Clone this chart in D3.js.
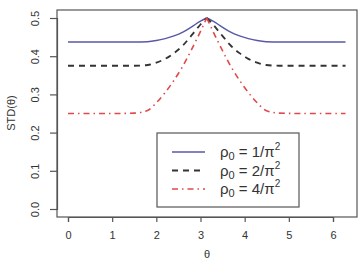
<!DOCTYPE html>
<html>
<head>
<meta charset="utf-8">
<script src="https://cdn.jsdelivr.net/npm/d3@7"></script>
<style>
  body { margin: 0; background: #fff; }
  svg { display: block; font-family: "Liberation Sans", Arial, sans-serif; }
</style>
</head>
<body>
<script>
// theta samples (0 .. 2*pi), curve is symmetric around pi
const theta = [0, 0.5, 1.0, 1.5, 1.8, 2.0, 2.2, 2.4, 2.6, 2.8, 3.0, 3.1416,
               3.2832, 3.4832, 3.6832, 3.8832, 4.0832, 4.2832, 4.4832, 4.7832, 5.2832, 5.7832, 6.2832];
const stdRho1 = [0.437, 0.437, 0.437, 0.437, 0.438, 0.441, 0.446, 0.453, 0.463, 0.477, 0.492, 0.5,
                 0.492, 0.477, 0.463, 0.453, 0.446, 0.441, 0.438, 0.437, 0.437, 0.437, 0.437];
const stdRho2 = [0.375, 0.375, 0.375, 0.375, 0.377, 0.383, 0.393, 0.408, 0.428, 0.455, 0.483, 0.5,
                 0.483, 0.455, 0.428, 0.408, 0.393, 0.383, 0.377, 0.375, 0.375, 0.375, 0.375];
const stdRho4 = [0.25, 0.25, 0.25, 0.251, 0.258, 0.278, 0.305, 0.337, 0.374, 0.418, 0.465, 0.5,
                 0.465, 0.418, 0.374, 0.337, 0.305, 0.278, 0.258, 0.251, 0.25, 0.25, 0.25];
const seriesLabels = ["1", "2", "4"];
const xTicks = [0, 1, 2, 3, 4, 5, 6];
const yTicks = [0.0, 0.1, 0.2, 0.3, 0.4, 0.5];

const width = 360, height = 260;
const box = { left: 57, right: 357, top: 10, bottom: 217 };

const svg = d3.select("body").append("svg")
    .attr("width", width)
    .attr("height", height);

const x = d3.scaleLinear().domain([0, 6]).range([68, 333]);
const y = d3.scaleLinear().domain([0, 0.5]).range([209, 18]);

// plot box
svg.append("rect")
    .attr("x", box.left).attr("y", box.top)
    .attr("width", box.right - box.left).attr("height", box.bottom - box.top)
    .attr("fill", "none").attr("stroke", "#555").attr("stroke-width", 1.2);

// x axis
const xAxis = svg.append("g")
    .attr("transform", `translate(0,${box.bottom})`)
    .call(d3.axisBottom(x).tickValues(xTicks).tickSize(5).tickPadding(9).tickFormat(d3.format("d")));
xAxis.select(".domain").attr("stroke", "#555").attr("stroke-width", 1.2);
xAxis.selectAll(".tick line").attr("stroke", "#555").attr("stroke-width", 1.2);
xAxis.selectAll("text").attr("font-size", 11).attr("fill", "#333")
    .attr("font-family", "Liberation Sans, Arial, sans-serif");

// y axis
const yAxis = svg.append("g")
    .attr("transform", `translate(${box.left},0)`)
    .call(d3.axisLeft(y).tickValues(yTicks).tickSize(7).tickFormat(d3.format(".1f")));
yAxis.select(".domain").attr("stroke", "#555").attr("stroke-width", 1.2);
yAxis.selectAll(".tick line").attr("stroke", "#555").attr("stroke-width", 1.2);
yAxis.selectAll("text")
    .attr("font-size", 11).attr("fill", "#333")
    .attr("font-family", "Liberation Sans, Arial, sans-serif")
    .attr("x", null)
    .attr("text-anchor", "middle")
    .attr("transform", "translate(-22,0) rotate(-90)")
    .attr("dy", "0.35em");

// axis titles
svg.append("text")
    .attr("transform", `translate(15,113) rotate(-90)`)
    .attr("text-anchor", "middle")
    .attr("font-size", 11).attr("fill", "#333")
    .text("STD(θ)");
svg.append("text")
    .attr("x", 207).attr("y", 258)
    .attr("text-anchor", "middle")
    .attr("font-size", 11).attr("fill", "#333")
    .text("θ");

// curves: draw left and right half separately so the cusp at pi stays sharp
const styles = [
    { values: stdRho1, color: "#5858a8", dash: null, width: 1.4 },
    { values: stdRho2, color: "#333333", dash: "6,5", width: 1.8 },
    { values: stdRho4, color: "#e04a4a", dash: "6,4,1.5,4", width: 1.6 }
];
const peak = theta.indexOf(3.1416);
const line = d3.line()
    .x(d => x(d[0]))
    .y(d => y(d[1]))
    .curve(d3.curveMonotoneX);

styles.forEach(s => {
    const pts = theta.map((t, i) => [t, s.values[i]]);
    [pts.slice(0, peak + 1), pts.slice(peak)].forEach(part => {
        svg.append("path")
            .attr("d", line(part))
            .attr("fill", "none")
            .attr("stroke", s.color)
            .attr("stroke-width", s.width)
            .attr("stroke-dasharray", s.dash);
    });
});

// legend
const legend = svg.append("g");
legend.append("rect")
    .attr("x", 157).attr("y", 133).attr("width", 142).attr("height", 74)
    .attr("fill", "#fff").attr("stroke", "#555").attr("stroke-width", 1.2);

styles.forEach((s, i) => {
    const ly = 152 + i * 18.5;
    legend.append("line")
        .attr("x1", 172).attr("x2", 205).attr("y1", ly).attr("y2", ly)
        .attr("stroke", s.color).attr("stroke-width", s.width)
        .attr("stroke-dasharray", s.dash);
    const t = legend.append("text")
        .attr("x", 220).attr("y", ly + 5)
        .attr("font-size", 15).attr("fill", "#333");
    t.append("tspan").text("ρ");
    t.append("tspan").attr("font-size", 11).attr("dy", 3).text("0");
    t.append("tspan").attr("dy", -3).text(" = " + seriesLabels[i] + "/π");
    t.append("tspan").attr("font-size", 10).attr("dy", -7).text("2");
});
</script>
</body>
</html>
